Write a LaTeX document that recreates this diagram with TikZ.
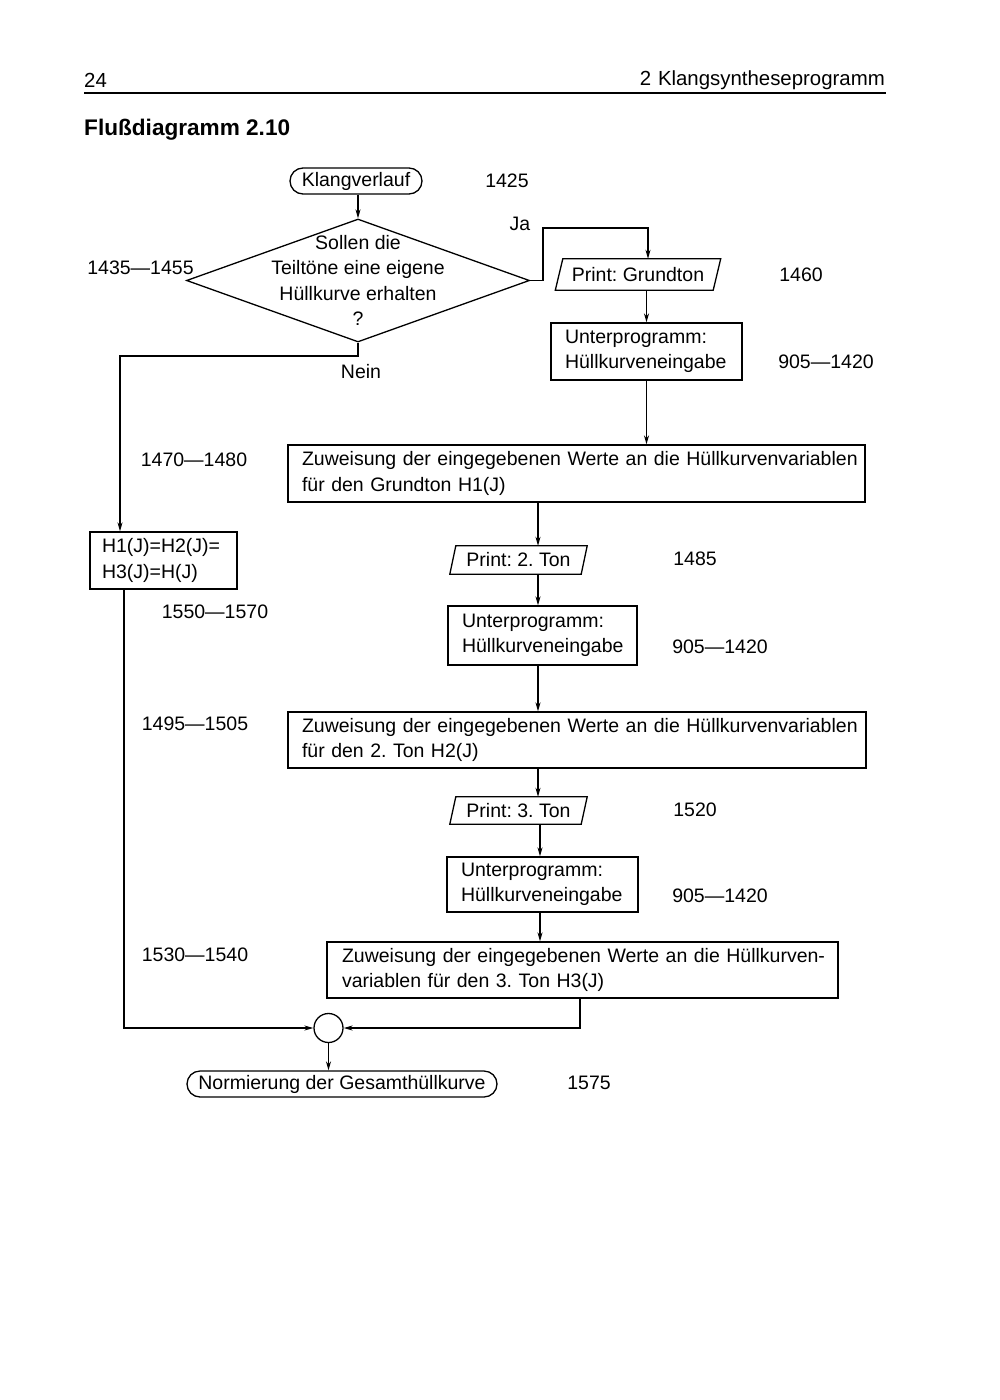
\documentclass[tikz,border=0pt]{standalone}
\usepackage{fontspec}
\setmainfont{Liberation Sans}
\usetikzlibrary{arrows.meta,shapes.geometric}
\frenchspacing
\begin{document}
\begin{tikzpicture}[x=1pt,y=-1pt,
  every node/.style={font=\fontsize{19.5}{25.6}\selectfont, inner sep=0pt},
  ln/.style={line width=1.3pt},
  arr/.style={ln, -{Stealth[length=9pt,width=5pt]}},
  box/.style={draw, ln, inner xsep=14pt, inner ysep=0pt, align=left},
  stadium/.style={draw, ln, rounded corners=13pt, minimum height=26pt},
  lab/.style={anchor=center}
]
\useasboundingbox (0,0) rectangle (1000,1400);

% header
\node[anchor=west, font=\fontsize{20.4}{24}\selectfont] (pg) at (84,80) {24};
\node[anchor=east, font=\fontsize{20.4}{24}\selectfont] (hd) at (885,80) {2\,\,Klangsyntheseprogramm};
\coordinate (rl) at (84,93);
\coordinate (rr) at (886,93);
\draw[ln] (rl) -- (rr);
\node[anchor=west, font=\fontsize{22.6}{26}\selectfont\bfseries] (title) at (84,130) {Flußdiagramm 2.10};

% nodes
\node[stadium, minimum width=132pt] (start) at (356,181) {Klangverlauf};
\node[draw, ln, shape=diamond, minimum width=343pt, minimum height=123pt] (dia) at (358,280.5) {};
\node[align=center] (diat) at (358,280.5) {Sollen die\\Teiltöne eine eigene\\Hüllkurve erhalten\\?};

\node[minimum width=157.5pt, minimum height=31pt] (p1) at (638,274.5) {Print: Grundton};
\draw[ln] ([xshift=3.75pt]p1.north west) -- ([xshift=3.75pt]p1.north east) -- ([xshift=-3.75pt]p1.south east) -- ([xshift=-3.75pt]p1.south west) -- cycle;

\node[box, text width=163pt, minimum height=57pt] (u1) at (646.5,351.5) {Unterprogramm:\\Hüllkurveneingabe};

\node[box, text width=549pt, minimum height=57pt] (z1) at (576.5,473.5) {\mbox{Zuweisung der eingegebenen Werte an die Hüllkurvenvariablen}\\\mbox{für den Grundton H1(J)}};

\node[box, inner xsep=12pt, text width=123pt, minimum height=57pt] (h1) at (163.5,560.5) {H1(J)=H2(J)=\\H3(J)=H(J)};

\node[minimum width=131pt, minimum height=28pt] (p2) at (518.5,560) {Print: 2. Ton};
\draw[ln] ([xshift=3pt]p2.north west) -- ([xshift=3pt]p2.north east) -- ([xshift=-3pt]p2.south east) -- ([xshift=-3pt]p2.south west) -- cycle;

\node[box, text width=161pt, minimum height=59pt] (u2) at (542.5,635.5) {Unterprogramm:\\Hüllkurveneingabe};

\node[box, text width=550pt, minimum height=56pt] (z2) at (577,740) {\mbox{Zuweisung der eingegebenen Werte an die Hüllkurvenvariablen}\\\mbox{für den 2. Ton H2(J)}};

\node[minimum width=131pt, minimum height=27pt] (p3) at (518.5,810.5) {Print: 3. Ton};
\draw[ln] ([xshift=3pt]p3.north west) -- ([xshift=3pt]p3.north east) -- ([xshift=-3pt]p3.south east) -- ([xshift=-3pt]p3.south west) -- cycle;

\node[box, text width=163pt, minimum height=55pt] (u3) at (542.5,884.5) {Unterprogramm:\\Hüllkurveneingabe};

\node[box, inner xsep=15pt, text width=481pt, minimum height=56pt] (z3) at (582.5,970) {\mbox{Zuweisung der eingegebenen Werte an die Hüllkurven-}\\\mbox{variablen für den 3. Ton H3(J)}};

\node[draw, ln, circle, minimum size=29pt] (circ) at (328.5,1028) {};

\node[stadium, minimum width=310pt] (end) at (342,1084) {Normierung der Gesamthüllkurve};

% labels
\node[lab] (l1425) at (507,181) {1425};
\node[lab] (l1435) at (140.5,268) {1435—1455};
\node[lab] (lja) at (520,224) {Ja};
\node[lab] (l1460) at (801,275) {1460};
\node[lab] (l905a) at (826,362) {905—1420};
\node[lab] (lnein) at (361,372) {Nein};
\node[lab] (l1470) at (194,460) {1470—1480};
\node[lab] (l1550) at (215,612) {1550—1570};
\node[lab] (l1485) at (695,559) {1485};
\node[lab] (l905b) at (720,647) {905—1420};
\node[lab] (l1495) at (195,724) {1495—1505};
\node[lab] (l1520) at (695,810) {1520};
\node[lab] (l905c) at (720,896) {905—1420};
\node[lab] (l1530) at (195,955) {1530—1540};
\node[lab] (l1575) at (589,1083) {1575};

% helper coordinates
\coordinate (jaA) at (543,228);
\coordinate (jaB) at (648,228);
\coordinate (neA) at (358,356);
\coordinate (neB) at (120,356);
\coordinate (cl) at (124,0);
\coordinate (cm) at (538,0);
\coordinate (cn) at (540,0);
\coordinate (cz) at (580,0);

% connectors
\draw[arr] (dia.north |- start.south) -- (dia.north);
\draw[arr] (dia.east) -| (jaA) -- (jaB) -- (jaB |- p1.north);
\draw[arr] (u1.north |- p1.south) -- (u1.north);
\draw[arr] (u1.south) -- (u1.south |- z1.north);
\draw[arr] (dia.south) -- (neA) -- (neB) -- (neB |- h1.north);
\draw[arr] (cm |- z1.south) -- (cm |- p2.north);
\draw[arr] (cm |- p2.south) -- (cm |- u2.north);
\draw[arr] (cm |- u2.south) -- (cm |- z2.north);
\draw[arr] (cm |- z2.south) -- (cm |- p3.north);
\draw[arr] (cn |- p3.south) -- (cn |- u3.north);
\draw[arr] (cn |- u3.south) -- (cn |- z3.north);
\draw[arr] (cl |- h1.south) |- (circ.west);
\draw[arr] (cz |- z3.south) |- (circ.east);
\draw[arr] (circ.south) -- (circ.south |- end.north);
\end{tikzpicture}
\end{document}
